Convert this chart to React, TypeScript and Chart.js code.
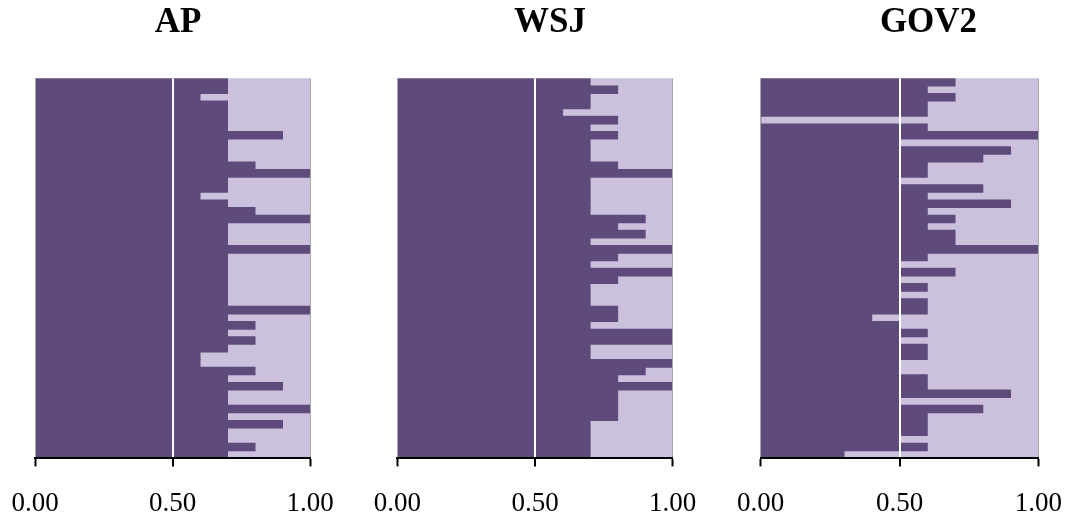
import React, { useEffect, useRef } from "react";
import { Chart, registerables } from "chart.js";

Chart.register(...registerables);

// ---- data ----
const rowLabels: string[] = Array.from({ length: 50 }, (_, i) => `T${i + 1}`);
const xTicks: number[] = [0, 0.5, 1];

const apValues: number[] = [
  0.7, 0.7, 0.6, 0.7, 0.7, 0.7, 0.7, 0.9, 0.7, 0.7,
  0.7, 0.8, 1.0, 0.7, 0.7, 0.6, 0.7, 0.8, 1.0, 0.7,
  0.7, 0.7, 1.0, 0.7, 0.7, 0.7, 0.7, 0.7, 0.7, 0.7,
  1.0, 0.7, 0.8, 0.7, 0.8, 0.7, 0.6, 0.6, 0.8, 0.7,
  0.9, 0.7, 0.7, 1.0, 0.7, 0.9, 0.7, 0.7, 0.8, 0.7,
];

const wsjValues: number[] = [
  0.7, 0.8, 0.7, 0.7, 0.6, 0.8, 0.7, 0.8, 0.7, 0.7,
  0.7, 0.8, 1.0, 0.7, 0.7, 0.7, 0.7, 0.7, 0.9, 0.8,
  0.9, 0.7, 1.0, 0.8, 0.7, 1.0, 0.8, 0.7, 0.7, 0.7,
  0.8, 0.8, 0.7, 1.0, 1.0, 0.7, 0.7, 1.0, 0.9, 0.8,
  1.0, 0.8, 0.8, 0.8, 0.8, 0.7, 0.7, 0.7, 0.7, 0.7,
];

const gov2Values: number[] = [
  0.7, 0.6, 0.7, 0.6, 0.6, 0.0, 0.6, 1.0, 0.5, 0.9,
  0.8, 0.6, 0.6, 0.5, 0.8, 0.6, 0.9, 0.6, 0.7, 0.6,
  0.7, 0.7, 1.0, 0.6, 0.5, 0.7, 0.5, 0.6, 0.5, 0.6,
  0.6, 0.4, 0.5, 0.6, 0.5, 0.6, 0.6, 0.5, 0.5, 0.6,
  0.6, 0.9, 0.5, 0.8, 0.6, 0.6, 0.6, 0.5, 0.6, 0.3,
];

const DARK = "#5e4a7b";
const LIGHT = "#cbc1dc";
const SERIF = '"Liberation Serif", "Times New Roman", serif';
const CANVAS_H = 542;

const titlePlugin = {
  id: "panelTitle",
  afterDraw(chart: any, _args: any, opts: any) {
    const ctx = chart.ctx;
    ctx.save();
    ctx.font = `bold 35px ${SERIF}`;
    ctx.fillStyle = "#000";
    ctx.textAlign = "center";
    ctx.textBaseline = "alphabetic";
    ctx.fillText(opts.text, opts.x, opts.y);
    ctx.restore();
  },
};

type PanelProps = {
  title: string;
  values: number[];
  left: number;
  width: number;
  padL: number;
  padR: number;
  titleX: number;
};

function Panel({ title, values, left, width, padL, padR, titleX }: PanelProps) {
  const ref = useRef<HTMLCanvasElement | null>(null);

  useEffect(() => {
    if (!ref.current) return;
    const chart = new Chart(ref.current, {
      type: "bar",
      data: {
        labels: rowLabels,
        datasets: [
          {
            label: "dark",
            data: values,
            backgroundColor: DARK,
            borderWidth: 0,
            inflateAmount: 0.5,
            barPercentage: 1,
            categoryPercentage: 1,
          },
          {
            label: "light",
            data: values.map((v) => [v, 1]) as any,
            backgroundColor: LIGHT,
            borderWidth: 0,
            inflateAmount: 0.5,
            barPercentage: 1,
            categoryPercentage: 1,
          },
        ],
      },
      options: {
        indexAxis: "y",
        responsive: false,
        animation: false,
        layout: { padding: { top: 78.3, bottom: 0, left: padL, right: padR } },
        plugins: {
          legend: { display: false },
          title: { display: false },
          tooltip: { enabled: false },
          panelTitle: { text: title, x: titleX, y: 32 },
        } as any,
        scales: {
          y: { display: false, stacked: true },
          x: {
            type: "linear",
            min: 0,
            max: 1,
            stacked: false,
            afterBuildTicks: (axis: any) => {
              axis.ticks = xTicks.map((v) => ({ value: v }));
            },
            grid: {
              z: 1,
              drawOnChartArea: true,
              drawTicks: true,
              tickLength: 8,
              tickColor: "#000",
              tickWidth: 2,
              color: (c: any) => (c.tick && c.tick.value === 0.5 ? "#ffffff" : "#a6a6a6"),
              lineWidth: (c: any) => (c.tick && c.tick.value === 0.5 ? 2 : 1),
            },
            border: { display: true, color: "#000", width: 2, z: 2 },
            ticks: {
              autoSkip: false,
              maxRotation: 0,
              padding: 0,
              color: "#000",
              font: { family: SERIF, size: 27, lineHeight: 2.8 },
              callback: (v: any) => Number(v).toFixed(2),
            },
          },
        },
      } as any,
      plugins: [titlePlugin],
    });
    return () => chart.destroy();
  }, [title, values, padL, padR, titleX]);

  return (
    <canvas
      ref={ref}
      width={width}
      height={CANVAS_H}
      style={{ position: "absolute", left, top: 0, width, height: CANVAS_H }}
    />
  );
}

export default function App() {
  return (
    <div
      style={{
        position: "fixed",
        left: 0,
        top: 0,
        width: 1068,
        height: 516,
        overflow: "hidden",
        background: "#fff",
      }}
    >
      <Panel title="AP" values={apValues} left={0} width={345} padL={35} padR={35} titleX={178} />
      <Panel title="WSJ" values={wsjValues} left={362} width={346} padL={35.3} padR={35.3} titleX={188} />
      <Panel title="GOV2" values={gov2Values} left={726} width={342} padL={34.7} padR={29.7} titleX={202.5} />
    </div>
  );
}
